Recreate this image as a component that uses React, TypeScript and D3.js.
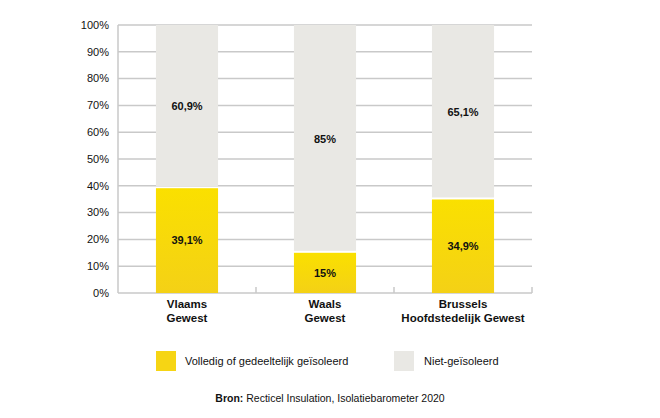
import React from 'react';
import * as d3 from 'd3';

const regions = [['Vlaams', 'Gewest'], ['Waals', 'Gewest'], ['Brussels', 'Hoofdstedelijk Gewest']];
const insulated = [39.1, 15, 34.9];
const notInsulated = [60.9, 85, 65.1];
const yTicks = [0, 10, 20, 30, 40, 50, 60, 70, 80, 90, 100];
const legendLabels = ['Volledig of gedeeltelijk geïsoleerd', 'Niet-geïsoleerd'];

const fmt = (v: number) => String(v).replace('.', ',') + '%';

export default function App() {
  const width = 660, height = 418;
  const margin = { top: 25, left: 118, right: 128, bottom: 125 };
  const innerH = height - margin.top - margin.bottom;
  const innerW = width - margin.left - margin.right;

  const x = d3.scaleBand<number>().domain(d3.range(regions.length)).range([0, innerW]).paddingInner(0.55).paddingOuter(0.275);
  const band = d3.scaleBand<number>().domain(d3.range(regions.length)).range([0, innerW]);
  const y = d3.scaleLinear().domain([0, 100]).range([innerH, 0]);

  const font = "'Liberation Sans', Arial, sans-serif";
  const gap = 2;

  return (
    <svg width={width} height={height} style={{ position: 'absolute', left: 0, top: 0 }} fontFamily={font}>
      <defs>
        <linearGradient id="yel" x1="0" y1="0" x2="0" y2="1">
          <stop offset="0%" stopColor="#FAE000" />
          <stop offset="100%" stopColor="#F4D116" />
        </linearGradient>
      </defs>
      <g transform={`translate(${margin.left},${margin.top})`}>
        {yTicks.map((t) => (
          <g key={t}>
            <line x1={0} x2={innerW} y1={y(t)} y2={y(t)} stroke="#C9C9C9" strokeWidth={1.5} />
            <text x={-9} y={y(t)} dy="0.35em" textAnchor="end" fontSize={11} fill="#111">{t}%</text>
          </g>
        ))}
        <line x1={0} x2={0} y1={0} y2={innerH} stroke="#C9C9C9" strokeWidth={1.5} />
        {d3.range(regions.length).map((i) => (
          <line key={'t' + i} x1={band(i)! + band.bandwidth()} x2={band(i)! + band.bandwidth()} y1={innerH - 6} y2={innerH} stroke="#C9C9C9" strokeWidth={1.5} />
        ))}
        {regions.map((r, i) => {
          const x0 = x(i)!;
          const w = x.bandwidth();
          const yi = y(insulated[i]);
          return (
            <g key={i}>
              <rect x={x0} y={y(100)} width={w} height={yi - y(100) - gap} fill="#E9E8E4" />
              <rect x={x0} y={yi} width={w} height={innerH - yi} fill="url(#yel)" />
              <text x={x0 + w / 2} y={(y(100) + yi) / 2} dy="0.35em" textAnchor="middle" fontSize={11} fontWeight="bold" fill="#111">{fmt(notInsulated[i])}</text>
              <text x={x0 + w / 2} y={(yi + innerH) / 2} dy="0.35em" textAnchor="middle" fontSize={11} fontWeight="bold" fill="#111">{fmt(insulated[i])}</text>
              {r.map((line, j) => (
                <text key={j} x={x0 + w / 2} y={innerH + 15 + j * 13.5} textAnchor="middle" fontSize={11.5} fontWeight="bold" fill="#111">{line}</text>
              ))}
            </g>
          );
        })}
      </g>
      <g transform="translate(156,351)">
        <rect x={0} y={0} width={20} height={20} fill="#F6D514" />
        <text x={29} y={10} dy="0.35em" fontSize={11} fill="#111">{legendLabels[0]}</text>
      </g>
      <g transform="translate(394,351)">
        <rect x={0} y={0} width={20} height={20} fill="#E9E8E4" />
        <text x={30} y={10} dy="0.35em" fontSize={11} fill="#111">{legendLabels[1]}</text>
      </g>
      <text x={width / 2} y={402} textAnchor="middle" fontSize={10.5} fill="#111">
        <tspan fontWeight="bold">Bron:</tspan> Recticel Insulation, Isolatiebarometer 2020
      </text>
    </svg>
  );
}
